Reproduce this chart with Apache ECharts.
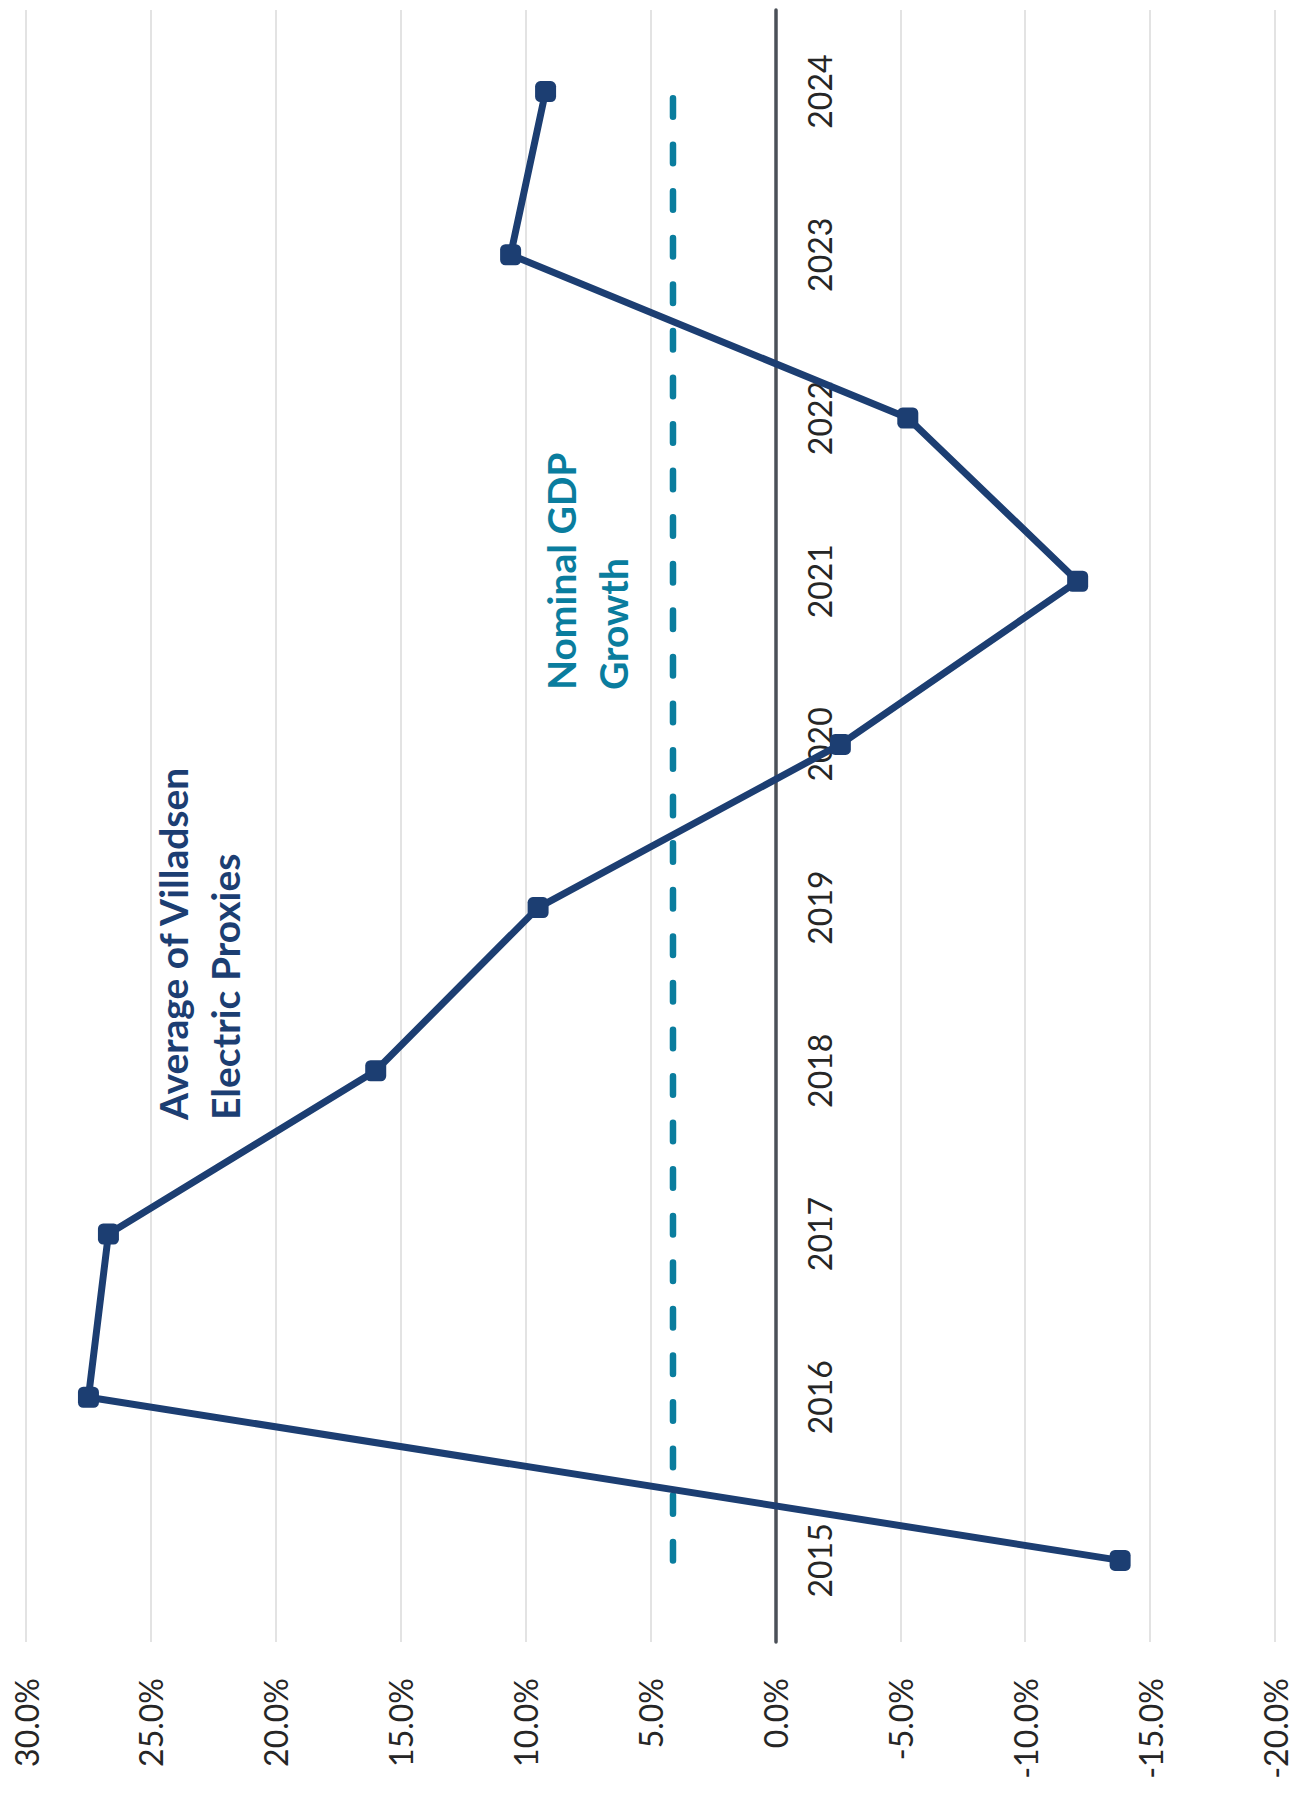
<!DOCTYPE html>
<html>
<head>
<meta charset="utf-8">
<title>Villadsen Electric Proxies vs Nominal GDP Growth</title>
<script src="https://cdn.jsdelivr.net/npm/echarts@6/dist/echarts.min.js"></script>
<style>
  html, body { margin: 0; padding: 0; background: #ffffff; overflow: hidden; }
  body { width: 1291px; height: 1796px; position: relative; }
  /* The chart is laid out landscape and turned a quarter turn counter-clockwise */
  #chart {
    position: absolute; left: 0; top: 0;
    width: 1796px; height: 1291px;
    transform-origin: 0 0;
    transform: translateY(1796px) rotate(-90deg);
  }
</style>
</head>
<body>
<div id="chart"></div>
<script>
// Years on the category axis
const years = ['2015', '2016', '2017', '2018', '2019', '2020', '2021', '2022', '2023', '2024'];
// Annual growth, average of Villadsen electric proxies (%)
const proxyGrowth = [-13.8, 27.5, 26.7, 16.0, 9.5, -2.6, -12.1, -5.3, 10.6, 9.2];
// Nominal GDP growth (%)
const gdpGrowth = [4.1, 4.1, 4.1, 4.1, 4.1, 4.1, 4.1, 4.1, 4.1, 4.1];
// Value axis range and step (%)
const valueMin = -20;
const valueMax = 30;
const valueStep = 5;

const NAVY = '#1c3e72';
const TEAL = '#0a7d9e';
const FONT = 'Lato, "Open Sans", sans-serif';

const W = 1796, H = 1291;
const gridBox = { left: 154, right: 10, top: 26, bottom: 16 };
// Year labels sit just under the zero line, so their axis is shifted up to it
const plotH = H - gridBox.top - gridBox.bottom;
const zeroFromBottom = plotH * (0 - valueMin) / (valueMax - valueMin);

const chart = echarts.init(document.getElementById('chart'), null, { renderer: 'svg' });

chart.setOption({
  backgroundColor: '#ffffff',
  animation: false,
  grid: Object.assign({ containLabel: false, outerBoundsMode: 'none' }, gridBox),
  xAxis: [
    {
      type: 'category',
      data: years,
      boundaryGap: true,
      axisLine: { onZero: true, lineStyle: { color: '#4b5058', width: 3.5 } },
      axisTick: { show: false },
      axisLabel: { show: false },
      splitLine: { show: false }
    },
    {
      type: 'category',
      data: years,
      position: 'bottom',
      boundaryGap: true,
      offset: -zeroFromBottom,
      axisLine: { show: false, onZero: false },
      axisTick: { show: false },
      axisLabel: { interval: 0, margin: 28, color: '#262626', fontFamily: FONT, fontSize: 32 },
      splitLine: { show: false }
    }
  ],
  yAxis: {
    type: 'value',
    min: valueMin,
    max: valueMax,
    interval: valueStep,
    axisLine: { show: false },
    axisTick: { show: false },
    axisLabel: {
      margin: 36,
      color: '#262626',
      fontFamily: FONT,
      fontSize: 32,
      formatter: v => v.toFixed(1) + '%'
    },
    splitLine: { show: true, lineStyle: { color: '#e3e3e3', width: 2 } }
  },
  series: [
    {
      name: 'Nominal GDP Growth',
      type: 'line',
      xAxisIndex: 0,
      data: gdpGrowth,
      symbol: 'none',
      lineStyle: { color: TEAL, width: 6.5, type: [18.5, 28.07], cap: 'round' },
      z: 2
    },
    {
      name: 'Average of Villadsen Electric Proxies',
      type: 'line',
      xAxisIndex: 0,
      data: proxyGrowth,
      symbol: 'roundRect',
      symbolSize: 21,
      itemStyle: { color: NAVY },
      lineStyle: { color: NAVY, width: 7 },
      z: 3
    }
  ],
  graphic: [
    {
      type: 'text',
      left: 676,
      top: 147,
      style: {
        text: 'Average of Villadsen\nElectric Proxies',
        fill: NAVY,
        font: 'bold 39px ' + FONT,
        lineHeight: 52
      }
    },
    {
      type: 'text',
      left: 1106,
      top: 535,
      style: {
        text: 'Nominal GDP\nGrowth',
        fill: TEAL,
        font: 'bold 39px ' + FONT,
        lineHeight: 52
      }
    }
  ]
});
</script>
</body>
</html>
